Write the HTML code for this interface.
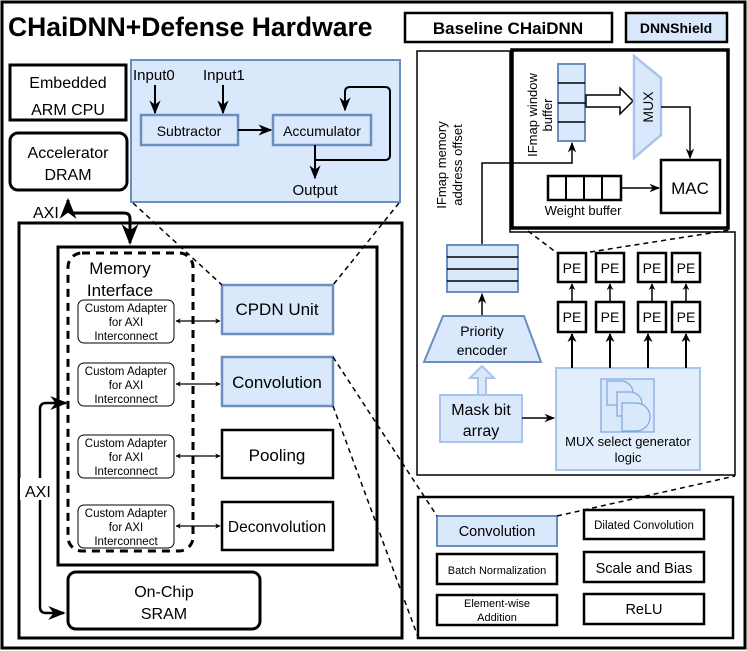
<!DOCTYPE html>
<html><head><meta charset="utf-8"><style>
html,body{margin:0;padding:0;background:#fff;}
svg{display:block;font-family:"Liberation Sans",Arial,sans-serif;}
</style></head><body>
<svg width="747" height="651" viewBox="0 0 747 651" xmlns="http://www.w3.org/2000/svg">
<defs>
<marker id="a" viewBox="0 0 10 10" refX="9" refY="5" markerWidth="7" markerHeight="7" orient="auto-start-reverse"><path d="M0,1 L10,5 L0,9 L3,5 Z" fill="#000"/></marker>
<marker id="s" viewBox="0 0 10 10" refX="9" refY="5" markerWidth="4.5" markerHeight="4.5" orient="auto-start-reverse"><path d="M0,0 L10,5 L0,10 L3,5 Z" fill="#000"/></marker>
</defs>
<rect x="2" y="2" width="743" height="646" fill="#fff" stroke="#000" stroke-width="3"/>
<text x="8" y="36" font-size="26.5" font-weight="bold">CHaiDNN+Defense Hardware</text>
<rect x="405" y="13" width="207" height="29" fill="#fff" stroke="#000" stroke-width="2.5"/>
<text x="508" y="34" font-size="17" font-weight="bold" text-anchor="middle">Baseline CHaiDNN</text>
<rect x="626" y="13" width="101" height="29" fill="#dae8fc" stroke="#000" stroke-width="2.5"/>
<text x="676" y="33" font-size="14" font-weight="bold" text-anchor="middle">DNNShield</text>

<rect x="10" y="65" width="116" height="55" fill="#fff" stroke="#000" stroke-width="3"/>
<text x="68" y="88" font-size="16" text-anchor="middle">Embedded</text>
<text x="68" y="115" font-size="16" text-anchor="middle">ARM CPU</text>
<rect x="10" y="133" width="117" height="57" rx="8" fill="#fff" stroke="#000" stroke-width="3"/>
<text x="68" y="158" font-size="16" text-anchor="middle">Accelerator</text>
<text x="68" y="180" font-size="16" text-anchor="middle">DRAM</text>
<text x="33" y="218" font-size="16">AXI</text>

<rect x="131" y="60" width="269" height="142" fill="#dae8fc" stroke="#6c8ebf" stroke-width="2"/>
<text x="133" y="80" font-size="15">Input0</text>
<text x="203" y="80" font-size="15">Input1</text>
<line x1="155" y1="85" x2="155" y2="113" stroke="#000" stroke-width="2" marker-end="url(#a)"/>
<line x1="223" y1="85" x2="223" y2="113" stroke="#000" stroke-width="2" marker-end="url(#a)"/>
<rect x="141" y="115" width="97" height="30" fill="#dae8fc" stroke="#6c8ebf" stroke-width="2.5"/>
<text x="189" y="136" font-size="14" text-anchor="middle">Subtractor</text>
<rect x="273" y="115" width="98" height="30" fill="#dae8fc" stroke="#6c8ebf" stroke-width="2.5"/>
<text x="322" y="136" font-size="14" text-anchor="middle">Accumulator</text>
<line x1="238" y1="130" x2="271" y2="130" stroke="#000" stroke-width="2" marker-end="url(#a)"/>
<line x1="315" y1="145" x2="315" y2="178" stroke="#000" stroke-width="2" marker-end="url(#a)"/>
<path d="M315,160 L385,160 Q390,160 390,155 L390,92 Q390,87 385,87 L350,87 Q345,87 345,92 L345,110" fill="none" stroke="#000" stroke-width="2" marker-end="url(#a)"/>
<text x="315" y="195" font-size="15" text-anchor="middle">Output</text>

<rect x="19" y="223" width="383" height="415" fill="#fff" stroke="#000" stroke-width="3"/>
<rect x="58" y="247" width="319" height="318" fill="#fff" stroke="#000" stroke-width="3"/>
<path d="M68,200 L68,208 Q68,213 74,213 L124,213 Q130,213 130,219 L130,243" fill="none" stroke="#000" stroke-width="3" marker-end="url(#a)" marker-start="url(#a)"/>
<rect x="68" y="253" width="125" height="298" rx="14" fill="none" stroke="#000" stroke-width="3" stroke-dasharray="8,6"/>
<text x="120" y="274" font-size="17" text-anchor="middle">Memory</text>
<text x="120" y="296" font-size="17" text-anchor="middle">Interface</text>
<g font-size="11.5" text-anchor="middle">
<rect x="78" y="300" width="96" height="43" rx="6" fill="#fff" stroke="#000"/>
<text x="126" y="312">Custom Adapter</text><text x="126" y="326">for AXI</text><text x="126" y="340">Interconnect</text>
<rect x="78" y="363" width="96" height="43" rx="6" fill="#fff" stroke="#000"/>
<text x="126" y="375">Custom Adapter</text><text x="126" y="389">for AXI</text><text x="126" y="403">Interconnect</text>
<rect x="78" y="435" width="96" height="43" rx="6" fill="#fff" stroke="#000"/>
<text x="126" y="447">Custom Adapter</text><text x="126" y="461">for AXI</text><text x="126" y="475">Interconnect</text>
<rect x="78" y="505" width="96" height="43" rx="6" fill="#fff" stroke="#000"/>
<text x="126" y="517">Custom Adapter</text><text x="126" y="531">for AXI</text><text x="126" y="545">Interconnect</text>
</g>
<g stroke="#000" stroke-width="1.2">
<line x1="176" y1="321" x2="220" y2="321" marker-start="url(#s)" marker-end="url(#s)"/>
<line x1="176" y1="384" x2="220" y2="384" marker-start="url(#s)" marker-end="url(#s)"/>
<line x1="176" y1="456" x2="220" y2="456" marker-start="url(#s)" marker-end="url(#s)"/>
<line x1="176" y1="526" x2="220" y2="526" marker-start="url(#s)" marker-end="url(#s)"/>
</g>
<rect x="222" y="285" width="111" height="49" fill="#dae8fc" stroke="#6c8ebf" stroke-width="2.5"/>
<text x="277" y="315" font-size="17" text-anchor="middle">CPDN Unit</text>
<rect x="222" y="357" width="111" height="49" fill="#dae8fc" stroke="#6c8ebf" stroke-width="2.5"/>
<text x="277" y="388" font-size="17" text-anchor="middle">Convolution</text>
<rect x="222" y="430" width="111" height="48" fill="#fff" stroke="#000" stroke-width="2.5"/>
<text x="277" y="461" font-size="17" text-anchor="middle">Pooling</text>
<rect x="222" y="502" width="111" height="48" fill="#fff" stroke="#000" stroke-width="2.5"/>
<text x="277" y="532" font-size="15.5" text-anchor="middle">Deconvolution</text>
<path d="M66,403 L46,403 Q40,403 40,409 L40,607 Q40,613 46,613 L64,613" fill="none" stroke="#000" stroke-width="2.5" marker-start="url(#a)" marker-end="url(#a)"/>
<rect x="20" y="478" width="32" height="22" fill="#fff"/>
<text x="25" y="497" font-size="16">AXI</text>
<rect x="68" y="572" width="192" height="57" rx="8" fill="#fff" stroke="#000" stroke-width="3"/>
<text x="164" y="597" font-size="16" text-anchor="middle">On-Chip</text>
<text x="164" y="619" font-size="16" text-anchor="middle">SRAM</text>

<path d="M510,51 L417,51 L417,475 L735,475 L735,232 L510,232 Z" fill="#fff" stroke="#000" stroke-width="1.5"/>
<rect x="512" y="50" width="216" height="178" fill="#fff" stroke="#000" stroke-width="3.5"/>
<text transform="translate(537,115) rotate(-90)" font-size="13" text-anchor="middle">IFmap window</text>
<text transform="translate(552,115) rotate(-90)" font-size="13" text-anchor="middle">buffer</text>
<rect x="558" y="64" width="27" height="77" fill="#dae8fc" stroke="#6c8ebf" stroke-width="2"/>
<g stroke="#000" stroke-width="1.5"><line x1="558" y1="83" x2="585" y2="83"/><line x1="558" y1="103" x2="585" y2="103"/><line x1="558" y1="122" x2="585" y2="122"/></g>
<path d="M586,95 L620,95 L620,88 L633,101 L620,114 L620,107 L586,107 Z" fill="#fff" stroke="#000" stroke-width="1.5"/>
<path d="M634,56 L661,78 L661,135 L634,158 Z" fill="#dae8fc" stroke="#a9c4eb" stroke-width="2.5"/>
<text transform="translate(653,107) rotate(-90)" font-size="14" text-anchor="middle">MUX</text>
<path d="M661,107 L690,107 L690,158" fill="none" stroke="#000" stroke-width="1.5" marker-end="url(#a)"/>
<rect x="661" y="160" width="59" height="53" fill="#fff" stroke="#000" stroke-width="2.5"/>
<text x="690" y="194" font-size="17" text-anchor="middle">MAC</text>
<rect x="548" y="176" width="73" height="24" fill="#fff" stroke="#000" stroke-width="2.5"/>
<g stroke="#000" stroke-width="2"><line x1="566" y1="176" x2="566" y2="200"/><line x1="584" y1="176" x2="584" y2="200"/><line x1="602" y1="176" x2="602" y2="200"/></g>
<line x1="621" y1="188" x2="659" y2="188" stroke="#000" stroke-width="1.5" marker-end="url(#a)"/>
<text x="583" y="215" font-size="13" text-anchor="middle">Weight buffer</text>
<text transform="translate(446,165) rotate(-90)" font-size="13" text-anchor="middle">IFmap memory</text>
<text transform="translate(462,165) rotate(-90)" font-size="13" text-anchor="middle">address offset</text>
<path d="M482,245 L482,163 L572,163 L572,143" fill="none" stroke="#000" stroke-width="1.5" marker-end="url(#a)"/>
<g stroke="#000" stroke-width="1.5" stroke-dasharray="5,4"><line x1="528" y1="231" x2="557" y2="253"/><line x1="590" y1="252" x2="730" y2="230"/></g>

<rect x="447" y="245" width="71" height="47" fill="#dae8fc" stroke="#6c8ebf" stroke-width="2"/>
<g stroke="#000" stroke-width="1.5"><line x1="447" y1="257" x2="518" y2="257"/><line x1="447" y1="269" x2="518" y2="269"/><line x1="447" y1="281" x2="518" y2="281"/></g>
<line x1="482" y1="316" x2="482" y2="294" stroke="#000" stroke-width="1.5" marker-end="url(#a)"/>
<path d="M443,316 L524,316 L541,362 L424,362 Z" fill="#dae8fc" stroke="#6c8ebf" stroke-width="2"/>
<text x="482" y="336" font-size="14" text-anchor="middle">Priority</text>
<text x="482" y="355" font-size="14" text-anchor="middle">encoder</text>
<path d="M478,395 L478,378 L470,378 L482,366 L494,378 L486,378 L486,395 Z" fill="#dae8fc" stroke="#a9c4eb" stroke-width="2"/>
<rect x="440" y="395" width="82" height="47" fill="#dae8fc" stroke="#a9c4eb" stroke-width="2"/>
<text x="481" y="415" font-size="16" text-anchor="middle">Mask bit</text>
<text x="481" y="436" font-size="16" text-anchor="middle">array</text>
<line x1="522" y1="418" x2="554" y2="418" stroke="#000" stroke-width="1.5" marker-end="url(#a)"/>
<rect x="556" y="368" width="144" height="102" fill="#e3eefc" stroke="#a9c4eb" stroke-width="2"/>
<rect x="601" y="379" width="53" height="53" fill="#dae8fc" stroke="#7ea6e0" stroke-width="1.2"/>
<g fill="#dae8fc" stroke="#7ea6e0" stroke-width="1.2">
<path d="M607,381 L621,381 A12,12 0 0 1 621,405 L607,405 Z"/>
<path d="M617,392 L630,392 A12,12 0 0 1 630,416 L617,416 Z"/>
<path d="M622,403 L636,403 A12,12 0 0 1 636,431 L622,431 Z"/>
</g>
<text x="628" y="446" font-size="13" text-anchor="middle">MUX select generator</text>
<text x="628" y="462" font-size="13" text-anchor="middle">logic</text>
<g font-size="14" text-anchor="middle">
<rect x="558" y="253" width="28" height="29" fill="#fff" stroke="#000" stroke-width="2.5"/><text x="572" y="273">PE</text>
<rect x="596" y="253" width="28" height="29" fill="#fff" stroke="#000" stroke-width="2.5"/><text x="610" y="273">PE</text>
<rect x="638" y="253" width="28" height="29" fill="#fff" stroke="#000" stroke-width="2.5"/><text x="652" y="273">PE</text>
<rect x="672" y="253" width="28" height="29" fill="#fff" stroke="#000" stroke-width="2.5"/><text x="686" y="273">PE</text>
<rect x="558" y="302" width="28" height="30" fill="#fff" stroke="#000" stroke-width="2.5"/><text x="572" y="322">PE</text>
<rect x="596" y="302" width="28" height="30" fill="#fff" stroke="#000" stroke-width="2.5"/><text x="610" y="322">PE</text>
<rect x="638" y="302" width="28" height="30" fill="#fff" stroke="#000" stroke-width="2.5"/><text x="652" y="322">PE</text>
<rect x="672" y="302" width="28" height="30" fill="#fff" stroke="#000" stroke-width="2.5"/><text x="686" y="322">PE</text>
</g>
<g stroke="#000" stroke-width="1.5">
<line x1="572" y1="302" x2="572" y2="284" marker-end="url(#s)"/><line x1="610" y1="302" x2="610" y2="284" marker-end="url(#s)"/><line x1="652" y1="302" x2="652" y2="284" marker-end="url(#s)"/><line x1="686" y1="302" x2="686" y2="284" marker-end="url(#s)"/>
</g>
<g stroke="#000" stroke-width="2">
<line x1="572" y1="368" x2="572" y2="334" marker-end="url(#s)"/><line x1="610" y1="368" x2="610" y2="334" marker-end="url(#s)"/><line x1="648" y1="368" x2="648" y2="334" marker-end="url(#s)"/><line x1="686" y1="368" x2="686" y2="334" marker-end="url(#s)"/>
</g>

<rect x="418" y="497" width="315" height="141" fill="#fff" stroke="#000" stroke-width="2.5"/>
<rect x="437" y="516" width="120" height="30" fill="#dae8fc" stroke="#6c8ebf" stroke-width="2"/>
<text x="497" y="536" font-size="14.5" text-anchor="middle">Convolution</text>
<rect x="584" y="510" width="120" height="29" fill="#fff" stroke="#000" stroke-width="2.5"/>
<text x="644" y="529" font-size="11.5" text-anchor="middle">Dilated Convolution</text>
<rect x="437" y="554" width="120" height="30" fill="#fff" stroke="#000" stroke-width="2.5"/>
<text x="497" y="574" font-size="11" text-anchor="middle">Batch Normalization</text>
<rect x="584" y="552" width="120" height="30" fill="#fff" stroke="#000" stroke-width="2.5"/>
<text x="644" y="573" font-size="14.5" text-anchor="middle">Scale and Bias</text>
<rect x="437" y="595" width="120" height="30" fill="#fff" stroke="#000" stroke-width="2.5"/>
<text x="497" y="607" font-size="11" text-anchor="middle">Element-wise</text>
<text x="497" y="621" font-size="11" text-anchor="middle">Addition</text>
<rect x="584" y="594" width="120" height="30" fill="#fff" stroke="#000" stroke-width="2.5"/>
<text x="644" y="614" font-size="14.5" text-anchor="middle">ReLU</text>

<g stroke="#000" stroke-width="1.5" stroke-dasharray="5,4" fill="none">
<line x1="133" y1="203" x2="222" y2="285"/>
<line x1="399" y1="203" x2="333" y2="285"/>
<line x1="333" y1="357" x2="437" y2="516"/>
<line x1="333" y1="406" x2="418" y2="637"/>
<line x1="557" y1="516" x2="735" y2="476"/>
</g>
</svg>
</body></html>
